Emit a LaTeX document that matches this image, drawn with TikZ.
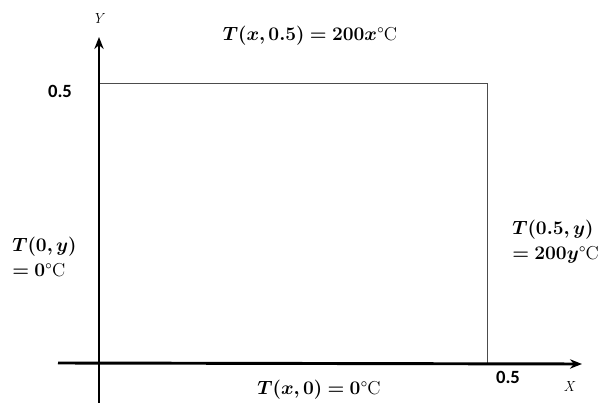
\documentclass[tikz,border=0pt]{standalone}
\usepackage{fontspec}
\usepackage{amsmath}
\usepackage{bm}
\newfontfamily\numfont{Carlito}
\usetikzlibrary{arrows.meta}
\begin{document}
\begin{tikzpicture}[x=0.75pt,y=-0.75pt,
  axis/.style={line width=2.2pt,-{Stealth[length=9pt,width=7pt]}},
  edge/.style={draw=black!70,line width=0.7pt},
  lbl/.style={font=\fontsize{14}{16}\selectfont,inner sep=0pt},
  num/.style={font=\numfont\bfseries\fontsize{14}{16}\selectfont,inner sep=0pt},
  axlbl/.style={font=\itshape\fontsize{11}{13}\selectfont,inner sep=0pt}]
\useasboundingbox (0,0) rectangle (608,403);
\coordinate (o) at (99,363);
\coordinate (tl) at (99,83);
\coordinate (tr) at (487,83);
\coordinate (br) at (487,363);
\coordinate (yb) at (99,403);
\coordinate (yt) at (99,37);
\coordinate (xl) at (58,363);
\coordinate (xr) at (582,364);
\draw[edge] (tl) -- (tr) -- (br);
\draw[axis] (yb) -- (yt);
\draw[axis] (xl) -- (xr);
\node[axlbl] (ylab) at (98,18) {Y};
\node[axlbl] (xlab) at (569,386) {X};
\node[num] (ytick) at (60,91) {0.5};
\node[num] (xtick) at (508,377) {0.5};
\node[lbl] (top) at (310,36) {$\bm{T(x,0.5)=200x}$\textdegree C};
\node[lbl] (bot) at (319,390) {$\bm{T(x,0)=0}$\textdegree C};
\node[lbl,align=left,anchor=west] (left) at (12,257) {$\bm{T(0,y)}$\\[3pt]$\bm{=0}$\textdegree C};
\node[lbl,align=left,anchor=west] (right) at (512,242) {$\bm{T(0.5,y)}$\\[3pt]$\bm{=200y}$\textdegree C};
\end{tikzpicture}
\end{document}
